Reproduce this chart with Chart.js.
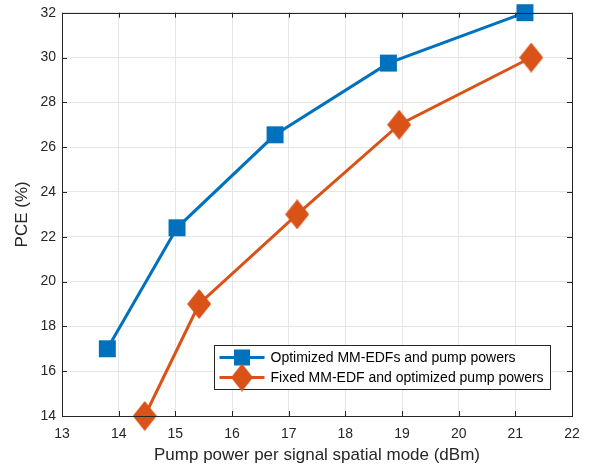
<!DOCTYPE html>
<html>
<head>
<meta charset="utf-8">
<script src="https://cdn.jsdelivr.net/npm/chart.js@4/dist/chart.umd.min.js"></script>
<style>
  html, body { margin: 0; padding: 0; background: #fff; }
  #wrap { width: 590px; height: 466px; }
</style>
</head>
<body>
<div id="wrap"><canvas id="pce"></canvas></div>
<script>
// data
const seriesNames = ['Optimized MM-EDFs and pump powers', 'Fixed MM-EDF and optimized pump powers'];
const optPump = [13.8, 15.03, 16.76, 18.76, 21.17];
const optPce = [17.0, 22.4, 26.55, 29.75, 32.0];
const fixPump = [14.46, 15.42, 17.15, 18.95, 21.28];
const fixPce = [14.0, 19.0, 23.0, 27.0, 30.0];
const xTicks = [13, 14, 15, 16, 17, 18, 19, 20, 21, 22];
const yTicks = [14, 16, 18, 20, 22, 24, 26, 28, 30, 32];

const blue = '#0072BD';
const orange = '#D95319';
const axisCol = '#262626';
const fontFam = '"Liberation Sans", Arial, Helvetica, sans-serif';

// MATLAB-ish diamond marker (taller than wide)
function diamond(w, h, col) {
    const c = document.createElement('canvas');
    c.width = w; c.height = h;
    const g = c.getContext('2d');
    g.fillStyle = col;
    g.beginPath();
    g.moveTo(w / 2, 0);
    g.lineTo(w, h / 2);
    g.lineTo(w / 2, h);
    g.lineTo(0, h / 2);
    g.closePath();
    g.fill();
    return c;
}
const diamondMark = diamond(24, 30, orange);
const diamondSmall = diamond(22, 28, orange);

const pts = (xs, ys) => xs.map((x, i) => ({ x: x, y: ys[i] }));

// box, inward ticks and the legend, drawn like MATLAB does
const matlabFrame = {
    id: 'matlabFrame',
    afterDatasetsDraw(chart) {
        const { ctx, chartArea: a, scales } = chart;
        ctx.save();
        ctx.strokeStyle = axisCol;
        ctx.lineWidth = 1;
        ctx.beginPath();
        xTicks.forEach(t => {
            const x = Math.round(scales.x.getPixelForValue(t)) + 0.5;
            ctx.moveTo(x, a.bottom); ctx.lineTo(x, a.bottom - 5);
            ctx.moveTo(x, a.top); ctx.lineTo(x, a.top + 5);
        });
        yTicks.forEach(t => {
            const y = Math.round(scales.y.getPixelForValue(t)) + 0.5;
            ctx.moveTo(a.left, y); ctx.lineTo(a.left + 5, y);
            ctx.moveTo(a.right, y); ctx.lineTo(a.right - 5, y);
        });
        ctx.stroke();
        ctx.strokeRect(Math.round(a.left) + 0.5, Math.round(a.top) + 0.5,
            Math.round(a.right - a.left), Math.round(a.bottom - a.top));

        // legend box
        const lx = 214.5, ly = 345.5, lw = 336, lh = 44;
        ctx.fillStyle = '#fff';
        ctx.fillRect(lx, ly, lw, lh);
        ctx.strokeStyle = axisCol;
        ctx.strokeRect(lx, ly, lw, lh);
        ctx.font = '14px ' + fontFam;
        ctx.textBaseline = 'middle';
        chart.data.datasets.forEach((ds, i) => {
            const cy = ly + 12 + i * 20;
            ctx.strokeStyle = ds.borderColor;
            ctx.lineWidth = 3;
            ctx.beginPath();
            ctx.moveTo(lx + 5, cy); ctx.lineTo(lx + 50, cy);
            ctx.stroke();
            if (i === 0) {
                ctx.fillStyle = blue;
                ctx.fillRect(lx + 27.5 - 8, cy - 8, 16, 16);
            } else {
                ctx.drawImage(diamondSmall, lx + 27.5 - 11, cy - 14);
            }
            ctx.fillStyle = '#000';
            ctx.fillText(ds.label, lx + 56, cy + 1);
        });
        ctx.restore();
    }
};

new Chart(document.getElementById('pce'), {
    type: 'line',
    data: {
        datasets: [{
            label: seriesNames[0],
            data: pts(optPump, optPce),
            borderColor: blue,
            backgroundColor: blue,
            borderWidth: 3,
            pointStyle: 'rect',
            pointRadius: 12,
            pointHoverRadius: 12,
            pointBorderWidth: 0,
            clip: false
        }, {
            label: seriesNames[1],
            data: pts(fixPump, fixPce),
            borderColor: orange,
            backgroundColor: orange,
            borderWidth: 3,
            pointStyle: diamondMark,
            pointRadius: 13,
            pointHoverRadius: 13,
            clip: false
        }]
    },
    options: {
        responsive: true,
        maintainAspectRatio: false,
        animation: false,
        layout: { autoPadding: false, padding: { top: 12.7, right: 18, left: 0, bottom: 0 } },
        plugins: {
            legend: { display: false },
            tooltip: { enabled: false }
        },
        scales: {
            x: {
                type: 'linear',
                min: 13, max: 22,
                afterFit: s => { s.height = 50; s.paddingLeft = 0; s.paddingRight = 0; },
                afterBuildTicks: s => { s.ticks = xTicks.map(v => ({ value: v })); },
                grid: { color: '#e6e6e6', drawTicks: false },
                border: { display: false },
                ticks: { color: axisCol, padding: 10, font: { size: 14, family: fontFam } },
                title: {
                    display: true,
                    text: 'Pump power per signal spatial mode (dBm)',
                    color: axisCol,
                    padding: { top: 0, bottom: 0 },
                    font: { size: 17, family: fontFam }
                }
            },
            y: {
                type: 'linear',
                min: 14, max: 32,
                afterFit: s => { s.width = 62; s.paddingTop = 0; s.paddingBottom = 0; },
                afterBuildTicks: s => { s.ticks = yTicks.map(v => ({ value: v })); },
                grid: { color: '#e6e6e6', drawTicks: false },
                border: { display: false },
                ticks: { color: axisCol, padding: 6, font: { size: 14, family: fontFam } },
                title: {
                    display: true,
                    text: 'PCE (%)',
                    color: axisCol,
                    padding: { top: 12.5, bottom: 0 },
                    font: { size: 17, family: fontFam }
                }
            }
        }
    },
    plugins: [matlabFrame]
});
</script>
</body>
</html>
